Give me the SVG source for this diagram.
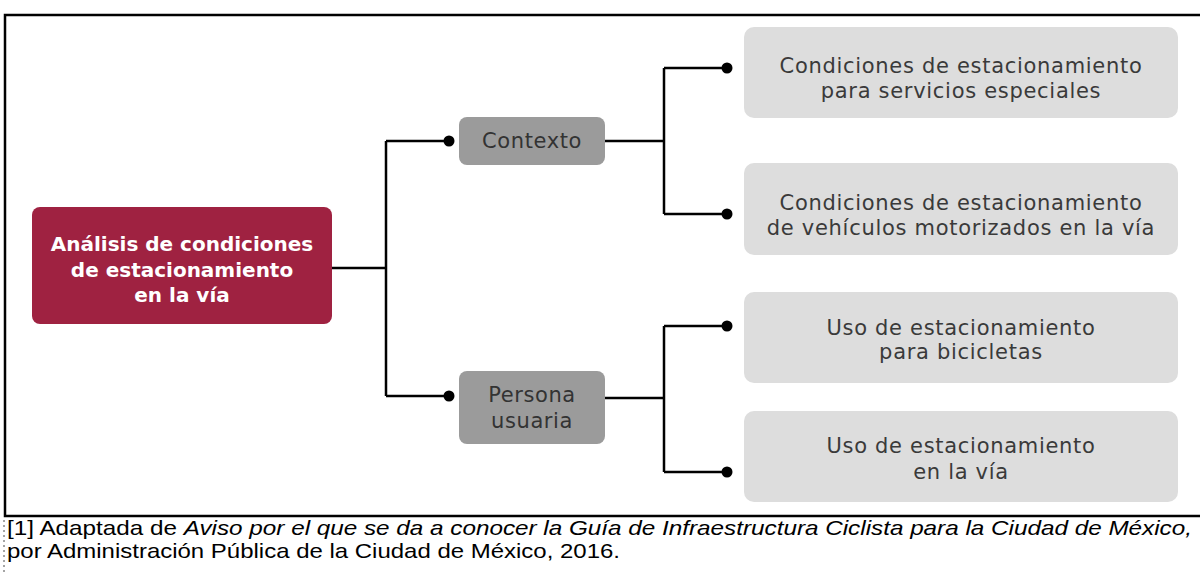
<svg xmlns="http://www.w3.org/2000/svg" width="1200" height="574" viewBox="0 0 1200 574">
<style>
.frame{fill:none;stroke:#000;stroke-width:2.5}
.conn{fill:none;stroke:#000;stroke-width:2.5}
.dot{fill:#000}
.main{fill:#9F2241}
.mid{fill:#9b9b9b}
.leaf{fill:#dddddd}
.tmain{font-family:"DejaVu Sans",sans-serif;font-weight:bold;font-size:20px;fill:#fff;text-anchor:middle}
.tmid{font-family:"DejaVu Sans",sans-serif;font-size:21px;letter-spacing:0.6px;fill:#333;text-anchor:middle}
.tleaf{font-family:"DejaVu Sans",sans-serif;font-size:21px;letter-spacing:0.7px;fill:#3a3a3a;text-anchor:middle}
.foot{font-family:"Liberation Sans",Arial,sans-serif;font-size:21px;fill:#000}
</style>
<path class="frame" d="M1201,15 H5 V516 H1201"/>
<line x1="4" y1="520" x2="4" y2="574" stroke="#888" stroke-width="1.5" stroke-dasharray="2,3"/>

<g id="connectors">
<path class="conn" d="M332,268 H386 M386,141 V396 M386,141 H449 M386,396 H449"/>
<path class="conn" d="M605,141 H664 M664,68 V214 M664,68 H727 M664,214 H727"/>
<path class="conn" d="M605,398 H664 M664,326 V472 M664,326 H727 M664,472 H727"/>
<circle class="dot" cx="449" cy="141" r="5.5"/>
<circle class="dot" cx="449" cy="396" r="5.5"/>
<circle class="dot" cx="727" cy="68" r="5.5"/>
<circle class="dot" cx="727" cy="214" r="5.5"/>
<circle class="dot" cx="727" cy="326" r="5.5"/>
<circle class="dot" cx="727" cy="472" r="5.5"/>
</g>

<g id="node-main">
<rect class="main" x="32" y="207" width="300" height="117" rx="8"/>
<text class="tmain" x="182" y="251">Análisis de condiciones</text>
<text class="tmain" x="182" y="277">de estacionamiento</text>
<text class="tmain" x="182" y="302">en la vía</text>
</g>

<g id="node-contexto">
<rect class="mid" x="459" y="117" width="146" height="48" rx="8"/>
<text class="tmid" x="532" y="148">Contexto</text>
</g>

<g id="node-persona">
<rect class="mid" x="459" y="371" width="146" height="73" rx="8"/>
<text class="tmid" x="532" y="402">Persona</text>
<text class="tmid" x="532" y="428">usuaria</text>
</g>

<g id="node-servicios">
<rect class="leaf" x="744" y="27" width="434" height="91" rx="10"/>
<text class="tleaf" x="961" y="73">Condiciones de estacionamiento</text>
<text class="tleaf" x="961" y="98">para servicios especiales</text>
</g>

<g id="node-motorizados">
<rect class="leaf" x="744" y="163" width="434" height="92" rx="10"/>
<text class="tleaf" x="961" y="210">Condiciones de estacionamiento</text>
<text class="tleaf" x="961" y="235">de vehículos motorizados en la vía</text>
</g>

<g id="node-bicicletas">
<rect class="leaf" x="744" y="292" width="434" height="91" rx="10"/>
<text class="tleaf" x="961" y="335">Uso de estacionamiento</text>
<text class="tleaf" x="961" y="359">para bicicletas</text>
</g>

<g id="node-via">
<rect class="leaf" x="744" y="411" width="434" height="91" rx="10"/>
<text class="tleaf" x="961" y="453">Uso de estacionamiento</text>
<text class="tleaf" x="961" y="479">en la vía</text>
</g>

<g id="footnote">
<text class="foot" x="7" y="535" textLength="1185" lengthAdjust="spacingAndGlyphs">[1] Adaptada de <tspan font-style="italic">Aviso por el que se da a conocer la Guía de Infraestructura Ciclista para la Ciudad de México,</tspan></text>
<text class="foot" x="7" y="558" textLength="613" lengthAdjust="spacingAndGlyphs">por Administración Pública de la Ciudad de México, 2016.</text>
</g>
</svg>
